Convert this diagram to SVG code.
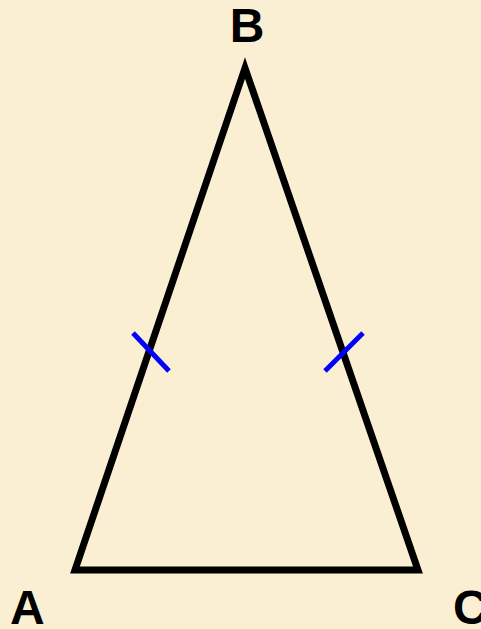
<svg xmlns="http://www.w3.org/2000/svg" width="481" height="629" viewBox="0 0 481 629">
<style>
.lbl{font-family:"Liberation Sans",Arial,sans-serif;font-weight:bold;font-size:48px;fill:#000}
.side{fill:none;stroke:#000;stroke-width:7;stroke-linejoin:miter;stroke-miterlimit:10}
.tick{stroke:#0000FF;stroke-width:5;stroke-linecap:butt}
</style>
<rect x="0" y="0" width="481" height="629" fill="#FAEFD2"/>
<g id="triangle">
<polygon class="side" points="245,68 75,570 418,570"/>
</g>
<g id="connectors">
<line class="tick" x1="133" y1="333" x2="169" y2="371"/>
<line class="tick" x1="363" y1="333" x2="325" y2="371"/>
</g>
<g id="label-B"><text class="lbl" x="247" y="42" text-anchor="middle">B</text></g>
<g id="label-A"><text class="lbl" x="10" y="624">A</text></g>
<g id="label-C"><text class="lbl" x="453" y="624">C</text></g>
</svg>
